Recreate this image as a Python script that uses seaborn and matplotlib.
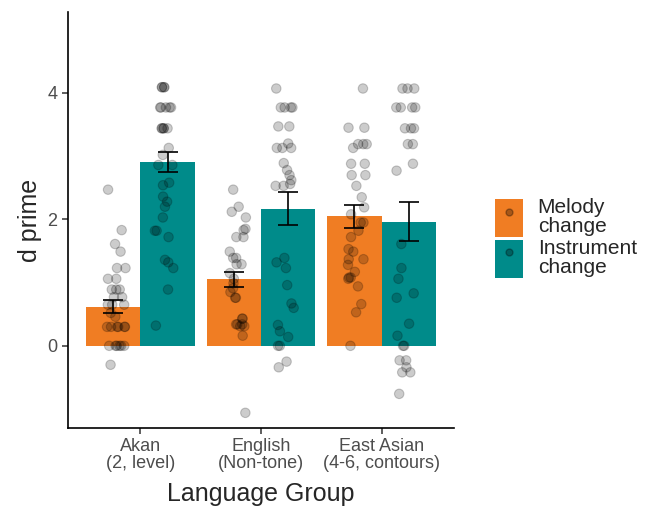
import numpy as np
import pandas as pd
import seaborn as sns
import matplotlib.pyplot as plt
from matplotlib.patches import Patch
from matplotlib.lines import Line2D

# categories
groups = ["Akan\n(2, level)", "English\n(Non-tone)", "East Asian\n(4-6, contours)"]
conditions = ["Melody\nchange", "Instrument\nchange"]
colors = ["#F07D23", "#008B8A"]

# bar heights (means) and standard errors
melody_means = [0.62, 1.05, 2.05]
instrument_means = [2.91, 2.17, 1.96]
melody_se = [0.10, 0.12, 0.18]
instrument_se = [0.155, 0.255, 0.31]

# individual participants (d prime)
akan_melody = [2.47, 1.83, 1.61, 1.49, 1.23, 1.23, 1.06, 1.06, 0.89, 0.89, 0.89, 0.77, 0.77,
               0.65, 0.65, 0.65, 0.52, 0.46, 0.30, 0.30, 0.30, 0.30, 0.30, 0.30,
               0.0, 0.0, 0.0, 0.0, 0.0, 0.0, -0.30]
akan_instrument = [4.09, 4.09, 4.09, 4.09, 3.77, 3.77, 3.77, 3.77, 3.77, 3.44, 3.44, 3.44, 3.44,
                   3.44, 3.13, 3.02, 2.86, 2.86, 2.58, 2.54, 2.36, 2.28, 2.20, 2.03, 1.82, 1.82,
                   1.72, 1.36, 1.32, 1.23, 0.89, 0.32]
english_melody = [2.47, 2.20, 2.12, 2.03, 1.85, 1.83, 1.72, 1.72, 1.49, 1.39, 1.39, 1.29, 1.29,
                  1.15, 1.06, 0.99, 0.91, 0.85, 0.76, 0.76, 0.43, 0.43, 0.34, 0.34, 0.34, 0.31,
                  0.31, 0.16, -1.06]
english_instrument = [4.07, 3.77, 3.77, 3.77, 3.77, 3.47, 3.47, 3.20, 3.13, 3.13, 3.13, 2.89, 2.78,
                      2.70, 2.62, 2.56, 2.53, 2.53, 1.39, 1.32, 1.23, 0.96, 0.67, 0.60, 0.33, 0.23,
                      0.14, 0.0, 0.0, -0.25, -0.34]
ea_melody = [4.07, 3.45, 3.45, 3.19, 3.19, 3.19, 3.13, 2.88, 2.88, 2.70, 2.70, 2.53, 2.35, 2.19,
             2.08, 1.95, 1.95, 1.82, 1.72, 1.53, 1.49, 1.37, 1.37, 1.28, 1.17, 1.08, 1.08, 1.06,
             0.94, 0.66, 0.53, 0.0]
ea_instrument = [4.07, 4.07, 4.07, 3.77, 3.77, 3.77, 3.77, 3.44, 3.44, 3.44, 3.19, 3.19, 2.88,
                 2.77, 1.61, 1.23, 1.06, 0.83, 0.76, 0.35, 0.16, 0.0, 0.0, -0.23, -0.23, -0.34,
                 -0.42, -0.42, -0.76]

# build tables
bars = pd.DataFrame({
    "group": groups * 2,
    "condition": [conditions[0]] * 3 + [conditions[1]] * 3,
    "mean": melody_means + instrument_means,
    "se": melody_se + instrument_se,
})

point_sets = [(groups[0], conditions[0], akan_melody), (groups[0], conditions[1], akan_instrument),
              (groups[1], conditions[0], english_melody), (groups[1], conditions[1], english_instrument),
              (groups[2], conditions[0], ea_melody), (groups[2], conditions[1], ea_instrument)]
pts = pd.concat([pd.DataFrame({"group": g, "condition": c, "dprime": v}) for g, c, v in point_sets],
                ignore_index=True)

sns.set_style("ticks")
plt.rcParams["font.family"] = ["Liberation Sans", "DejaVu Sans"]

fig = plt.figure(figsize=(6.48, 5.12), dpi=100)
ax = fig.add_axes([68 / 648, 84 / 512, 386 / 648, 416 / 512])

sns.barplot(data=bars, x="group", y="mean", hue="condition", order=groups, hue_order=conditions,
            palette=colors, saturation=1, width=0.9, errorbar=None, linewidth=0,
            legend=False, ax=ax)

np.random.seed(7)
sns.stripplot(data=pts, x="group", y="dprime", hue="condition", order=groups,
              hue_order=conditions, palette=["black", "black"], dodge=True, jitter=0.16,
              size=6.8, alpha=0.2, linewidth=0.8, edgecolor="black", legend=False, ax=ax)

# error bars at the bar centres
for cont, cond in zip(ax.containers, conditions):
    sub = bars[bars["condition"] == cond]
    xs = [r.get_x() + r.get_width() / 2 for r in cont]
    ax.errorbar(xs, sub["mean"], yerr=sub["se"], fmt="none", ecolor="black",
                elinewidth=1.2, capsize=7, capthick=1.2, zorder=5)

ax.set_xlim(-0.6, 2.6)
ax.set_ylim(-1.3, 5.28)
ax.set_yticks([0, 2, 4])
ax.set_xlabel("Language Group", fontsize=18, labelpad=7)
ax.set_ylabel("d prime", fontsize=18, labelpad=4)
ax.tick_params(axis="both", labelsize=13, labelcolor="#4D4D4D", color="#333333",
               length=4, width=1.1)
for lab in ax.get_xticklabels():
    lab.set_linespacing(1.0)
for side in ["left", "bottom"]:
    ax.spines[side].set_color("black")
    ax.spines[side].set_linewidth(1.2)
sns.despine(ax=ax)

handles = [(Patch(facecolor=c, edgecolor="none"),
            Line2D([], [], marker="o", ls="none", color="black", alpha=0.3, markersize=5))
           for c in colors]
leg = fig.legend(handles, conditions, loc="center left", bbox_to_anchor=(495 / 648, 1 - 238 / 512),
                 frameon=False, fontsize=15, handlelength=1.35, handleheight=2.43,
                 handletextpad=0.7, labelspacing=0.05, borderpad=0, borderaxespad=0)
for t in leg.get_texts():
    t.set_linespacing(1.0)

fig.savefig("out.png", dpi=100)
